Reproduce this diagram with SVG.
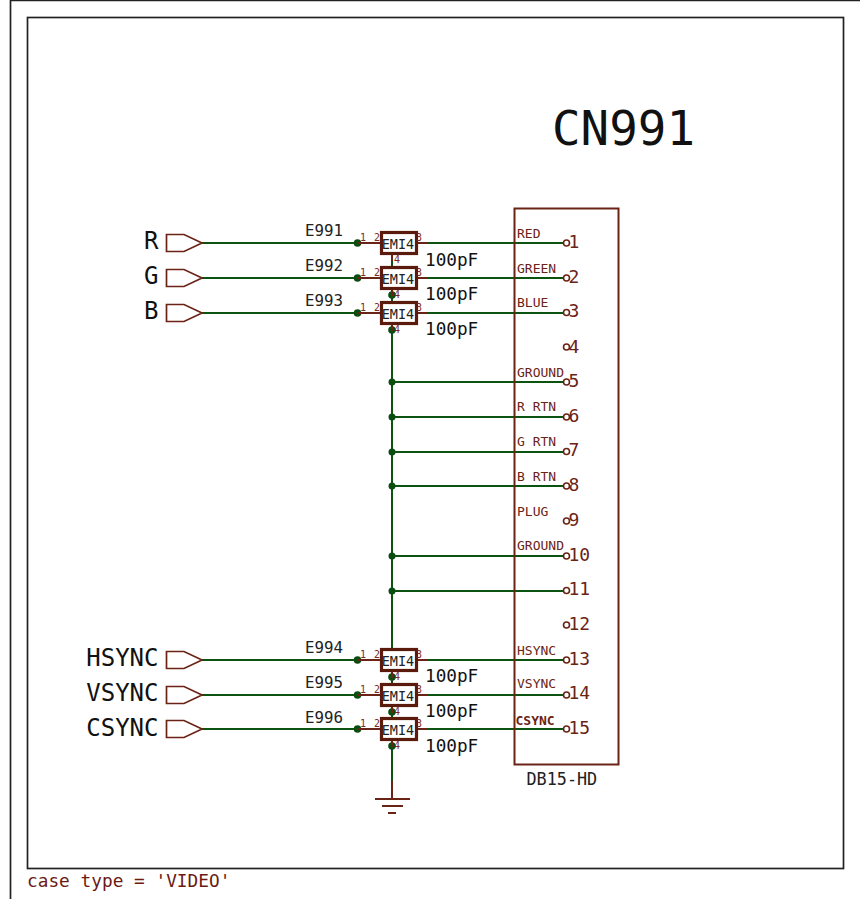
<svg xmlns="http://www.w3.org/2000/svg" width="860" height="899" viewBox="0 0 860 899">
<defs>
<style>
text{font-family:"DejaVu Sans Mono","Liberation Mono",monospace}
.frame{fill:none;stroke:#222;stroke-width:1.7}
.w{fill:none;stroke:#0b540f;stroke-width:2}
.b{fill:none;stroke:#6b2316;stroke-width:2}
.body{fill:#fff;stroke:#5a1a0c;stroke-width:3.2}
.port{fill:#fff;stroke:#6b2316;stroke-width:1.7}
.pin{fill:#fff;stroke:#6b2316;stroke-width:1.6}
.conn{fill:none;stroke:#6b2316;stroke-width:2}
.dot{fill:#0b4d10}
.sig{font-size:24px;fill:#111;text-anchor:end}
.ref{font-size:15.800px;fill:#222}
.val{font-size:17.700px;fill:#111}
.emi{font-size:13.500px;fill:#222;text-anchor:middle}
.pn{font-size:10px;fill:#7a2a22}
.pl{font-size:13px;fill:#6b2316}
.num{font-size:18px;fill:#6b2316}
</style>
<g id="emi">
<path class="b" d="M357 0H381M417 0H428M392 11V18"/>
<rect class="body" x="381.500" y="-10.500" width="35" height="21"/>
<text class="emi" x="398" y="5.500">EMI4</text>
<text class="pn" x="360" y="-2.500">1</text>
<text class="pn" x="374" y="-2.500">2</text>
<text class="pn" x="416" y="-2.500">3</text>
<text class="pn" x="394" y="19.500">4</text>
</g>
<g id="input">
<polygon class="port" points="166.500,-8.500 184,-8.500 202,0 184,8.500 166.500,8.500"/>
</g>
</defs>
<rect width="860" height="899" fill="#fff"/>
<path class="frame" d="M10.500 899V0.500H860"/>
<rect class="frame" x="27.500" y="17.500" width="816" height="851"/>
<text x="552" y="145" font-size="47.500" fill="#111">CN991</text>
<text x="27" y="887" font-size="17.800" fill="#6b1a14">case type = 'VIDEO'</text>

<g id="connectors">
<path class="w" d="M202 243H357M428 243H566M202 278H357M428 278H566M202 313H357M428 313H566M202 660H357M428 660H566M202 695H357M428 695H566M202 729H357M428 729H566"/>
<path class="w" d="M392 254V781M392 382H566M392 417H566M392 452H566M392 486H566M392 556H566M392 591H566"/>
</g>
<g id="junctions">
<circle class="dot" cx="357.500" cy="243" r="3.800"/><circle class="dot" cx="357.500" cy="278" r="3.800"/><circle class="dot" cx="357.500" cy="313" r="3.800"/>
<circle class="dot" cx="357.500" cy="660" r="3.800"/><circle class="dot" cx="357.500" cy="695" r="3.800"/><circle class="dot" cx="357.500" cy="729" r="3.800"/>
<circle class="dot" cx="392" cy="295" r="3.800"/><circle class="dot" cx="392" cy="330" r="3.800"/>
<circle class="dot" cx="392" cy="382" r="3.500"/><circle class="dot" cx="392" cy="417" r="3.500"/><circle class="dot" cx="392" cy="452" r="3.500"/><circle class="dot" cx="392" cy="486" r="3.500"/><circle class="dot" cx="392" cy="556" r="3.500"/><circle class="dot" cx="392" cy="591" r="3.500"/>
<circle class="dot" cx="392" cy="677" r="3.800"/><circle class="dot" cx="392" cy="712" r="3.800"/><circle class="dot" cx="392" cy="746" r="3.800"/>
</g>

<g id="port-R"><use href="#input" y="243"/><text class="sig" x="158.500" y="249">R</text></g>
<g id="port-G"><use href="#input" y="278"/><text class="sig" x="158.500" y="284">G</text></g>
<g id="port-B"><use href="#input" y="313"/><text class="sig" x="158.500" y="319">B</text></g>
<g id="port-HSYNC"><use href="#input" y="660"/><text class="sig" x="158.500" y="666">HSYNC</text></g>
<g id="port-VSYNC"><use href="#input" y="695"/><text class="sig" x="158.500" y="701">VSYNC</text></g>
<g id="port-CSYNC"><use href="#input" y="729"/><text class="sig" x="158.500" y="736">CSYNC</text></g>

<g id="E991"><use href="#emi" y="243"/><text class="ref" x="305" y="236">E991</text><text class="val" x="425" y="266">100pF</text></g>
<g id="E992"><use href="#emi" y="278"/><text class="ref" x="305" y="271">E992</text><text class="val" x="425" y="300">100pF</text></g>
<g id="E993"><use href="#emi" y="313"/><text class="ref" x="305" y="306">E993</text><text class="val" x="425" y="335">100pF</text></g>
<g id="E994"><use href="#emi" y="660"/><text class="ref" x="305" y="653">E994</text><text class="val" x="425" y="682">100pF</text></g>
<g id="E995"><use href="#emi" y="695"/><text class="ref" x="305" y="688">E995</text><text class="val" x="425" y="717">100pF</text></g>
<g id="E996"><use href="#emi" y="729"/><text class="ref" x="305" y="723">E996</text><text class="val" x="425" y="752">100pF</text></g>

<g id="GND"><path class="b" d="M392 781V799M375 799H410M382 806H403M388 813H396"/></g>

<g id="CN991">
<rect class="conn" x="514.500" y="208.500" width="104" height="556"/>
<g fill="#fff">
<circle class="pin" cx="566.500" cy="243" r="3"/><circle class="pin" cx="566.500" cy="278" r="3"/><circle class="pin" cx="566.500" cy="312.500" r="3"/><circle class="pin" cx="566.500" cy="347" r="3"/><circle class="pin" cx="566.500" cy="382" r="3"/><circle class="pin" cx="566.500" cy="417" r="3"/><circle class="pin" cx="566.500" cy="451.500" r="3"/><circle class="pin" cx="566.500" cy="486" r="3"/><circle class="pin" cx="566.500" cy="521" r="3"/><circle class="pin" cx="566.500" cy="556" r="3"/><circle class="pin" cx="566.500" cy="590.500" r="3"/><circle class="pin" cx="566.500" cy="625" r="3"/><circle class="pin" cx="566.500" cy="660" r="3"/><circle class="pin" cx="566.500" cy="695" r="3"/><circle class="pin" cx="566.500" cy="729" r="3"/>
</g>
<text class="num" x="568.500" y="248">1</text><text class="num" x="568.500" y="283">2</text><text class="num" x="568.500" y="317">3</text><text class="num" x="568.500" y="353">4</text><text class="num" x="568.500" y="387">5</text><text class="num" x="568.500" y="422">6</text><text class="num" x="568.500" y="456">7</text><text class="num" x="568.500" y="491">8</text><text class="num" x="568.500" y="526">9</text><text class="num" x="568.500" y="561">10</text><text class="num" x="568.500" y="595">11</text><text class="num" x="568.500" y="630">12</text><text class="num" x="568.500" y="665">13</text><text class="num" x="568.500" y="699">14</text><text class="num" x="568.500" y="734">15</text>
<text class="pl" x="517" y="238">RED</text><text class="pl" x="517" y="273">GREEN</text><text class="pl" x="517" y="307">BLUE</text><text class="pl" x="517" y="377">GROUND</text><text class="pl" x="517" y="411">R RTN</text><text class="pl" x="517" y="446">G RTN</text><text class="pl" x="517" y="481">B RTN</text><text class="pl" x="517" y="516">PLUG</text><text class="pl" x="517" y="550">GROUND</text><text class="pl" x="517" y="655">HSYNC</text><text class="pl" x="517" y="688">VSYNC</text><text class="pl" x="515.500" y="725" font-weight="bold">CSYNC</text>
<text x="526.500" y="785" font-size="16.800" fill="#222">DB15-HD</text>
</g>
</svg>
